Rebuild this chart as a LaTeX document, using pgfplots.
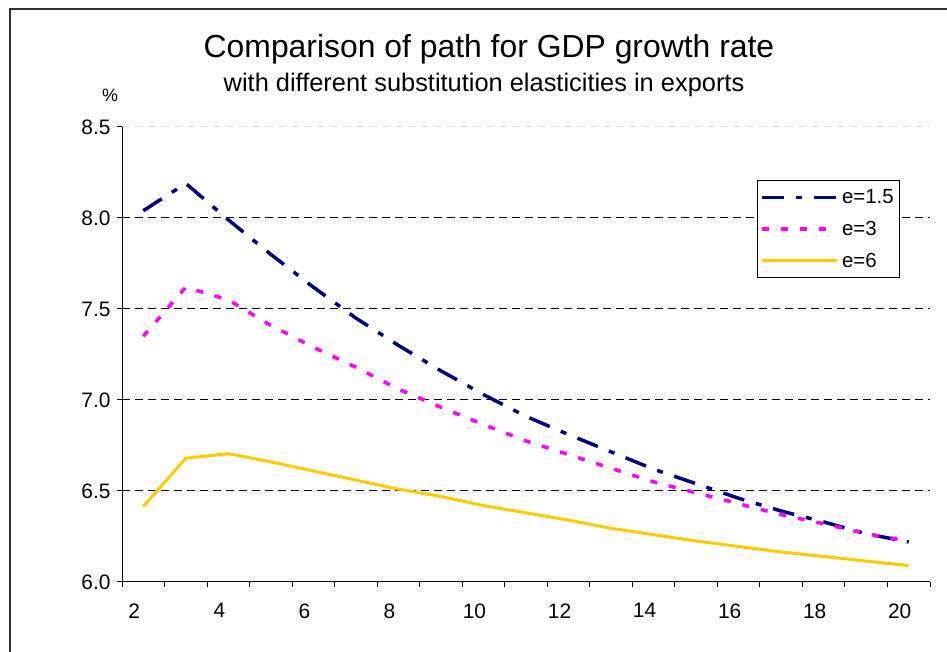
\documentclass[border=0pt]{standalone}
\usepackage{fontspec}
\setmainfont{Liberation Sans}
\usepackage{pgfplots}
\pgfplotsset{compat=1.18}

\definecolor{navyline}{RGB}{0,0,128}
\definecolor{magline}{RGB}{255,0,255}
\definecolor{goldline}{RGB}{255,204,0}

\begin{document}
\begin{tikzpicture}
\useasboundingbox (0bp,0bp) rectangle (947bp,652bp);
% outer chart frame
\draw[line width=2bp, black!80] (10bp,-20bp) -- (10bp,643bp) -- (970bp,643bp);
\node[anchor=base, font=\fontsize{32}{36}\selectfont] at (489bp,594bp) {Comparison of path for GDP growth rate};
\node[anchor=base, font=\fontsize{25.5}{30}\selectfont] at (484bp,560bp) {with different substitution elasticities in exports};
\node[font=\fontsize{18}{22}\selectfont] at (110bp,557bp) {\%};

\begin{axis}[
  at={(122bp,70bp)}, anchor=south west,
  scale only axis, width=808bp, height=455bp,
  xmin=1.5, xmax=20.5, ymin=6, ymax=8.5,
  axis lines*=left,
  axis line style={line width=1bp, black},
  tick align=outside, tick pos=left,
  major tick length=5bp,
  every tick/.style={black, line width=1bp},
  /pgf/number format/assume math mode=true,
  tick label style={font=\fontsize{21}{24}\selectfont},
  ytick={6,6.5,7,7.5,8},
  yticklabel={\pgfmathprintnumber[fixed,fixed zerofill,precision=1,assume math mode=true]{\tick}},
  extra y ticks={8.5},
  extra y tick labels={8.5},
  extra y tick style={major grid style={black!12, line width=1bp, dash pattern=on 8bp off 5bp}},
  ymajorgrids,
  major grid style={black, line width=1bp, dash pattern=on 8bp off 5bp},
  y tick label style={xshift=-3bp},
  xtick={1.5,2.5,...,20.5},
  xticklabels={},
  extra x ticks={2,4,...,20},
  extra x tick style={major tick length=0bp, xmajorgrids=false, x tick label style={yshift=-18bp, xshift=-9bp}},
  legend style={at={(0.786,0.8835)}, anchor=north west, draw=black, line width=1bp,
    font=\fontsize{20.5}{24}\selectfont, inner xsep=3bp, inner ysep=6bp, row sep=10bp,
    nodes={inner sep=3bp}},
  legend cell align=left,
  legend image code/.code={\draw[#1] (0bp,0bp) -- (75bp,0bp);},
]
\addplot[navyline, line width=3.5bp, dash pattern=on 22bp off 12bp on 6bp off 12bp] coordinates {
  (2,8.04) (3,8.19) (4,7.99) (5,7.80) (6,7.62) (7,7.45) (8,7.30) (9,7.16) (10,7.03)
  (11,6.91) (12,6.81) (13,6.715) (14,6.62) (15,6.54) (16,6.46) (17,6.39) (18,6.33)
  (19,6.265) (20,6.22)
};
\addlegendentry{e=1.5}
\addplot[magline, line width=3.5bp, dash pattern=on 7bp off 12bp] coordinates {
  (2,7.35) (3,7.62) (4,7.55) (5,7.41) (6,7.29) (7,7.18) (8,7.06) (9,6.96) (10,6.865)
  (11,6.775) (12,6.70) (13,6.625) (14,6.55) (15,6.49) (16,6.43) (17,6.37) (18,6.32)
  (19,6.265) (20,6.225)
};
\addlegendentry{e=3}
\addplot[goldline, line width=3bp] coordinates {
  (2,6.415) (3,6.68) (4,6.705) (5,6.66) (6,6.61) (7,6.56) (8,6.51) (9,6.47) (10,6.42)
  (11,6.38) (12,6.34) (13,6.295) (14,6.26) (15,6.225) (16,6.195) (17,6.165) (18,6.14)
  (19,6.115) (20,6.09)
};
\addlegendentry{e=6}
\end{axis}
\end{tikzpicture}
\end{document}
